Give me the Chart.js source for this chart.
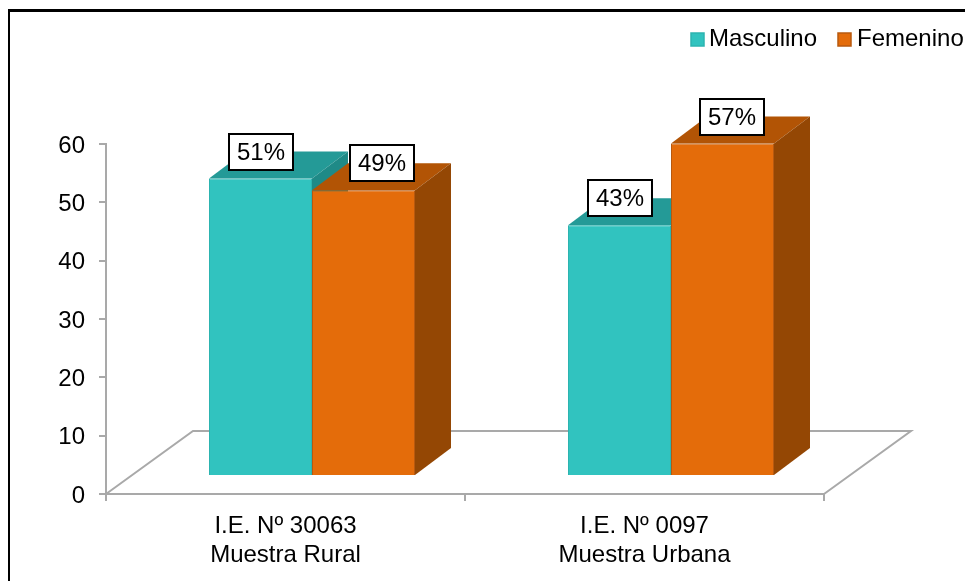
<!DOCTYPE html>
<html>
<head>
<meta charset="utf-8">
<style>
  html, body { margin: 0; padding: 0; background: #fff; overflow: hidden; }
  canvas { display: block; }
</style>
<script src="https://cdn.jsdelivr.net/npm/chart.js@4"></script>
</head>
<body>
<canvas id="chart" width="965" height="581"></canvas>
<script>
const categories = [['I.E. Nº 30063', 'Muestra Rural'], ['I.E. Nº 0097', 'Muestra Urbana']];
const masculino = [51, 43];
const femenino = [49, 57];
const yTicks = [0, 10, 20, 30, 40, 50, 60];

const FONT = '"Liberation Sans", Arial, sans-serif';
const AXIS_GREY = '#A9A9A9';

// The pseudo-3D look: bars sit inside a floor, so they are pushed off the axis.
const BAR_SHIFT = { x: 26.5, y: -18 };
const BAR_DEPTH = { x: 36, y: -27 };
const FLOOR_DEPTH = { x: 87, y: -63 };

// Each dataset gets its faces: front, top, side.
const faces = [
  { front: '#31C3BF', edge: '#2CB4B0', top: '#249A97', side: '#1F8A87' },
  { front: '#E46C0A', edge: '#B8590F', top: '#B25405', side: '#944704' },
];

// Labels in the picture are nudged by hand to avoid the neighbouring bar.
const labelNudge = [[0, 0], [18, 9]];

function poly(ctx, pts, fill) {
  ctx.beginPath();
  pts.forEach((p, i) => (i ? ctx.lineTo(p[0], p[1]) : ctx.moveTo(p[0], p[1])));
  ctx.closePath();
  ctx.fillStyle = fill;
  ctx.fill();
}

const chart3d = {
  id: 'chart3d',
  beforeDatasetsDraw(chart) {
    const { ctx, scales: { x, y } } = chart;
    const y0 = y.getPixelForValue(0);

    ctx.save();
    ctx.strokeStyle = AXIS_GREY;
    ctx.lineWidth = 2;
    ctx.beginPath();
    ctx.moveTo(x.left, y0);
    ctx.lineTo(x.left + FLOOR_DEPTH.x, y0 + FLOOR_DEPTH.y);
    ctx.lineTo(x.right + FLOOR_DEPTH.x, y0 + FLOOR_DEPTH.y);
    ctx.lineTo(x.right, y0);
    ctx.stroke();
    ctx.restore();

    // Draw in dataset order so the orange bars cover the side of the teal ones.
    chart.data.datasets.forEach((ds, di) => {
      const c = faces[di];
      chart.getDatasetMeta(di).data.forEach((bar) => {
        const l = bar.x - bar.width / 2 + BAR_SHIFT.x;
        const r = bar.x + bar.width / 2 + BAR_SHIFT.x;
        const t = bar.y + BAR_SHIFT.y;
        const b = bar.base + BAR_SHIFT.y;
        const dx = BAR_DEPTH.x;
        const dy = BAR_DEPTH.y;
        poly(ctx, [[l, t], [l + dx, t + dy], [r + dx, t + dy], [r, t]], c.top);
        poly(ctx, [[r, t], [r + dx, t + dy], [r + dx, b + dy], [r, b]], c.side);
        ctx.save();
        ctx.translate(BAR_SHIFT.x, BAR_SHIFT.y);
        bar.draw(ctx);
        ctx.restore();
      });
    });
    return false;
  },
  afterDraw(chart) {
    const { ctx } = chart;
    ctx.save();

    // Value labels in white boxes
    ctx.font = '24px ' + FONT;
    ctx.textAlign = 'center';
    ctx.textBaseline = 'middle';
    chart.data.datasets.forEach((ds, di) => {
      chart.getDatasetMeta(di).data.forEach((bar, i) => {
        const cx = Math.round(bar.x + 27 + labelNudge[di][i]);
        const cy = Math.round(bar.y - 45);
        ctx.fillStyle = '#fff';
        ctx.strokeStyle = '#000';
        ctx.lineWidth = 2;
        ctx.fillRect(cx - 32, cy - 18, 64, 36);
        ctx.strokeRect(cx - 32, cy - 18, 64, 36);
        ctx.fillStyle = '#000';
        ctx.fillText(ds.data[i] + '%', cx, cy + 1);
      });
    });

    // Legend, the built-in one leaves too wide a gap after the swatch
    const legendX = [691, 838];
    const legendTextX = [709, 857];
    ctx.textAlign = 'left';
    chart.data.datasets.forEach((ds, di) => {
      ctx.fillStyle = faces[di].front;
      ctx.strokeStyle = faces[di].edge;
      ctx.lineWidth = 1.5;
      ctx.fillRect(legendX[di], 33, 13, 13);
      ctx.strokeRect(legendX[di], 33, 13, 13);
      ctx.fillStyle = '#000';
      ctx.fillText(ds.label, legendTextX[di], 39);
    });

    // Outer frame, cut off by the right and bottom of the picture
    ctx.fillStyle = '#000';
    ctx.fillRect(8, 9, 957, 3);
    ctx.fillRect(8, 9, 2, 572);
    ctx.restore();
  },
};

new Chart(document.getElementById('chart'), {
  type: 'bar',
  data: {
    labels: categories,
    datasets: [
      { label: 'Masculino', data: masculino, backgroundColor: faces[0].front, borderColor: faces[0].edge, borderWidth: 1 },
      { label: 'Femenino', data: femenino, backgroundColor: faces[1].front, borderColor: faces[1].edge, borderWidth: 1 },
    ],
  },
  options: {
    responsive: false,
    animation: false,
    layout: { padding: { top: 144, right: 141, left: 0, bottom: 0 } },
    datasets: { bar: { categoryPercentage: 206 / 359, barPercentage: 1 } },
    plugins: { legend: { display: false }, tooltip: { enabled: false } },
    scales: {
      x: {
        afterFit: (s) => { s.height = 87; },
        grid: { drawOnChartArea: false, color: AXIS_GREY, lineWidth: 2, tickLength: 7 },
        border: { color: AXIS_GREY, width: 2 },
        ticks: { color: '#000', font: { family: FONT, size: 24 }, padding: 11, maxRotation: 0 },
      },
      y: {
        min: 0,
        max: 60,
        afterFit: (s) => { s.width = 106; },
        afterBuildTicks: (s) => { s.ticks = yTicks.map((v) => ({ value: v })); },
        grid: { drawOnChartArea: false, color: AXIS_GREY, lineWidth: 2, tickLength: 7 },
        border: { color: AXIS_GREY, width: 2 },
        ticks: { color: '#000', font: { family: FONT, size: 24 }, padding: 14, labelOffset: 2 },
      },
    },
  },
  plugins: [chart3d],
});
</script>
</body>
</html>
